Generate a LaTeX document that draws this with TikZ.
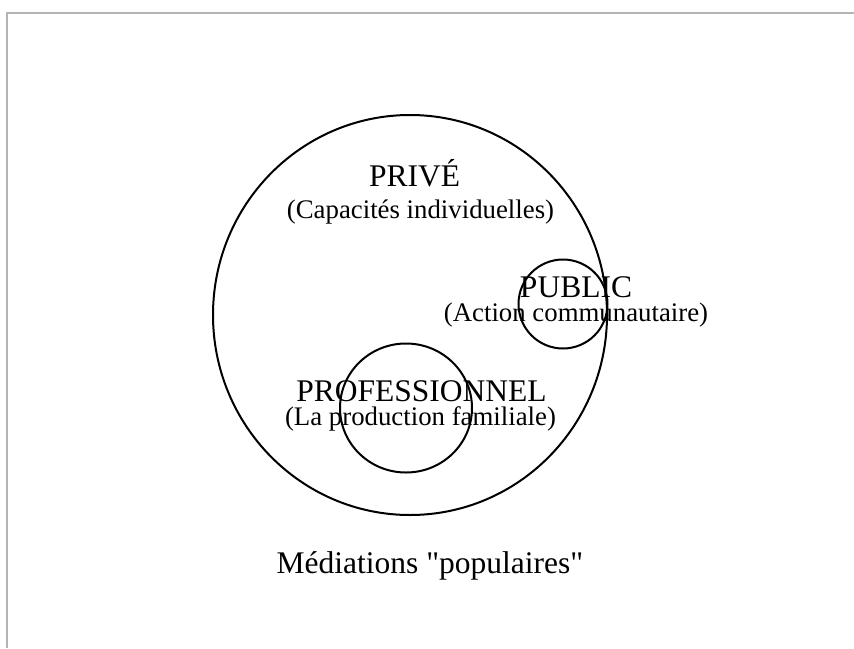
\documentclass[tikz,border=0pt]{standalone}
\usepackage{fontspec}
\setmainfont{Liberation Serif}
\tikzset{
  ring/.style={draw=black, line width=2pt},
  title/.style={inner sep=0pt, anchor=base, font=\fontsize{31.5}{36}\selectfont},
  subtitle/.style={inner sep=0pt, anchor=base, font=\fontsize{26.8}{31}\selectfont},
  frame/.style={draw={rgb,255:red,180;green,180;blue,180}, line width=2pt}
}
\begin{document}
\begin{tikzpicture}[x=1pt,y=-1pt]
\useasboundingbox (0,0) rectangle (854,648);
\fill[white] (0,0) rectangle (854,648);
\draw[frame] (7,648) -- (7,13) -- (854,13);
% circles
\draw[ring] (410,315) ellipse [x radius=197, y radius=200];
\draw[ring] (563,304) circle [radius=44.5];
\draw[ring] (406,408) ellipse [x radius=66, y radius=64.5];
% texts
\node[title] (prive) at (414.5,186) {PRIVÉ};
\node[subtitle] (prives) at (420.5,218) {(Capacités individuelles)};
\node[title] (public) at (576,297.5) {PUBLIC};
\node[subtitle] (publics) at (576,321.5) {(Action communautaire)};
\node[title] (prof) at (421.5,401) {PROFESSIONNEL};
\node[subtitle] (profs) at (420.5,425) {(La production familiale)};
\node[title] (med) at (430,573) {Médiations \textquotedbl populaires\textquotedbl};
\end{tikzpicture}
\end{document}
